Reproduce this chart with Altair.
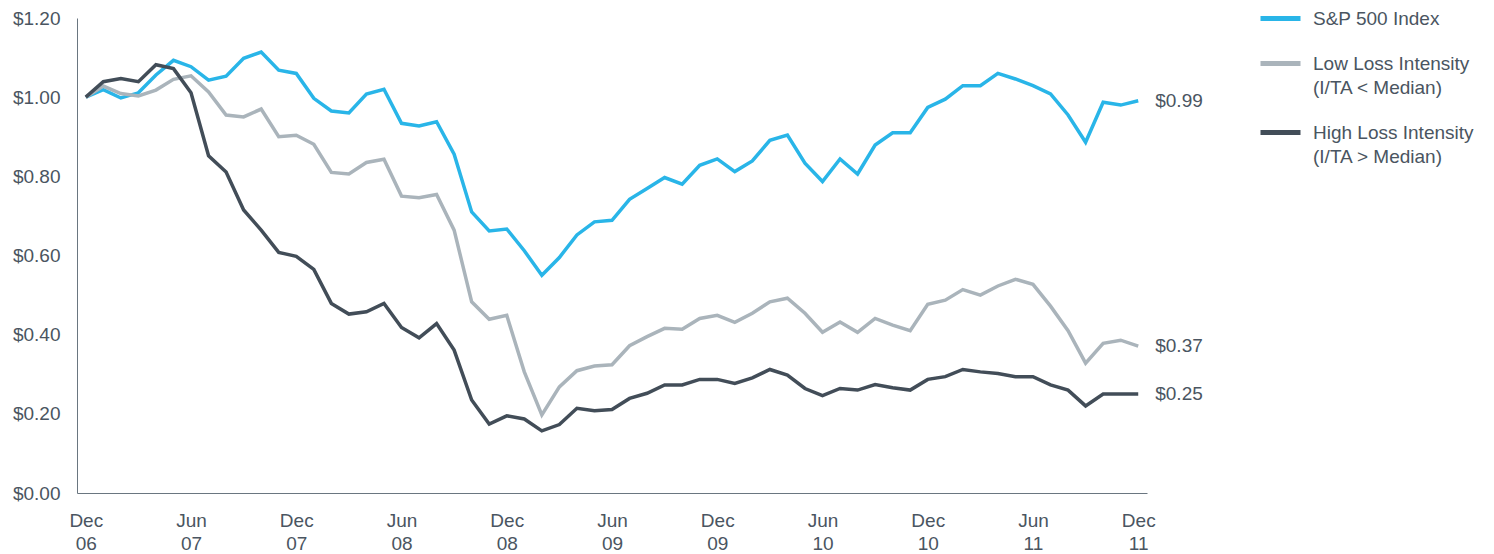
import altair as alt
import pandas as pd

FONT = "Liberation Sans"
TEXT = "#4a5561"
AXIS = "#6a7680"

series_names = [
    "S&P 500 Index",
    "Low Loss Intensity\n(I/TA < Median)",
    "High Loss Intensity\n(I/TA > Median)",
]
series_colors = ["#29b5e8", "#aab4bb", "#424d58"]

sp500 = [1.000, 1.019, 0.998, 1.011, 1.056, 1.093, 1.077, 1.043, 1.053, 1.098,
         1.114, 1.068, 1.060, 0.997, 0.965, 0.960, 1.008, 1.020, 0.934, 0.927,
         0.938, 0.856, 0.710, 0.662, 0.667, 0.612, 0.550, 0.595, 0.652, 0.685,
         0.689, 0.742, 0.769, 0.797, 0.780, 0.828, 0.844, 0.812, 0.839, 0.891,
         0.904, 0.833, 0.787, 0.844, 0.806, 0.879, 0.910, 0.910, 0.974, 0.995,
         1.029, 1.029, 1.060, 1.046, 1.029, 1.008, 0.955, 0.886, 0.987, 0.980,
         0.991]
low_loss = [1.000, 1.028, 1.009, 1.003, 1.018, 1.045, 1.054, 1.013, 0.955, 0.950,
            0.970, 0.900, 0.904, 0.881, 0.810, 0.806, 0.835, 0.843, 0.750, 0.746,
            0.754, 0.664, 0.483, 0.439, 0.449, 0.306, 0.197, 0.268, 0.309, 0.321,
            0.324, 0.372, 0.395, 0.416, 0.414, 0.441, 0.449, 0.431, 0.454, 0.483,
            0.492, 0.454, 0.406, 0.432, 0.406, 0.441, 0.424, 0.410, 0.477, 0.487,
            0.514, 0.500, 0.523, 0.540, 0.527, 0.472, 0.410, 0.328, 0.378, 0.386,
            0.371]
high_loss = [1.000, 1.039, 1.047, 1.039, 1.082, 1.072, 1.011, 0.852, 0.811, 0.715,
             0.664, 0.608, 0.598, 0.565, 0.479, 0.452, 0.458, 0.479, 0.418, 0.392,
             0.428, 0.361, 0.235, 0.174, 0.195, 0.187, 0.157, 0.173, 0.214, 0.208,
             0.211, 0.239, 0.252, 0.273, 0.273, 0.287, 0.287, 0.277, 0.291, 0.312,
             0.298, 0.264, 0.246, 0.264, 0.260, 0.274, 0.266, 0.260, 0.287, 0.294,
             0.312, 0.306, 0.302, 0.294, 0.294, 0.273, 0.260, 0.220, 0.250, 0.250,
             0.250]

tick_months = [0, 6, 12, 18, 24, 30, 36, 42, 48, 54, 60]
tick_labels = ["Dec 06", "Jun 07", "Dec 07", "Jun 08", "Dec 08", "Jun 09",
               "Dec 09", "Jun 10", "Dec 10", "Jun 11", "Dec 11"]
y_ticks = [0.0, 0.2, 0.4, 0.6, 0.8, 1.0, 1.2]

rows = []
for name, vals in zip(series_names, [sp500, low_loss, high_loss]):
    for m, v in enumerate(vals):
        rows.append({"month": m, "value": v, "series": name})
df = pd.DataFrame(rows)

label_expr = "split(" + str(tick_labels) + "[round(datum.value / 6)], ' ')"
legend_label_expr = "split(datum.label, '\\n')"

x_enc = alt.X(
    "month:Q",
    scale=alt.Scale(domain=[-0.5, 60.5], nice=False, zero=False),
    axis=alt.Axis(
        values=tick_months, labelExpr=label_expr, title=None, grid=False,
        ticks=False, tickSize=0, labelPadding=18, labelLineHeight=23,
        labelFlush=False, labelOverlap=False, labelAlign="center",
        labelBaseline="top",
    ),
)
y_enc = alt.Y(
    "value:Q",
    scale=alt.Scale(domain=[0, 1.2], nice=False),
    axis=alt.Axis(
        values=y_ticks, format="$.2f", title=None, grid=False, ticks=False,
        tickSize=0, labelPadding=17,
    ),
)

lines = alt.Chart(df).mark_line(strokeWidth=3.5).encode(
    x=x_enc,
    y=y_enc,
    color=alt.Color(
        "series:N",
        sort=series_names,
        scale=alt.Scale(domain=series_names, range=series_colors),
        legend=alt.Legend(
            orient="none", legendX=1181, legendY=-22, title=None,
            symbolType="stroke", symbolSize=1600, symbolStrokeWidth=5,
            labelExpr=legend_label_expr, labelFontSize=19,
            labelFont=FONT, labelColor=TEXT,
            labelOffset=10, rowPadding=12, padding=0, labelLimit=400,
        ),
    ),
    order=alt.Order("month:Q"),
)

end_labels = alt.Chart(df).transform_filter(
    "datum.month == 60"
).transform_calculate(
    lbl="format(datum.value, '$.2f')"
).mark_text(
    align="left", baseline="middle", dx=17, fontSize=19, font=FONT, color=TEXT
).encode(
    x="month:Q", y="value:Q", text="lbl:N"
)

chart = (lines + end_labels).properties(
    width=1070, height=475,
    autosize=alt.AutoSizeParams(type="none"),
    padding={"left": 69, "top": 10, "right": 330, "bottom": 60},
).configure(
    style={"guide-label": {"lineHeight": 24}}
).configure_view(stroke=None).configure_axis(
    labelFont=FONT, labelFontSize=19, labelColor=TEXT, domainColor=AXIS,
    domainWidth=1,
)

chart.save("out.html", embed_options={"renderer": "svg", "actions": False})
